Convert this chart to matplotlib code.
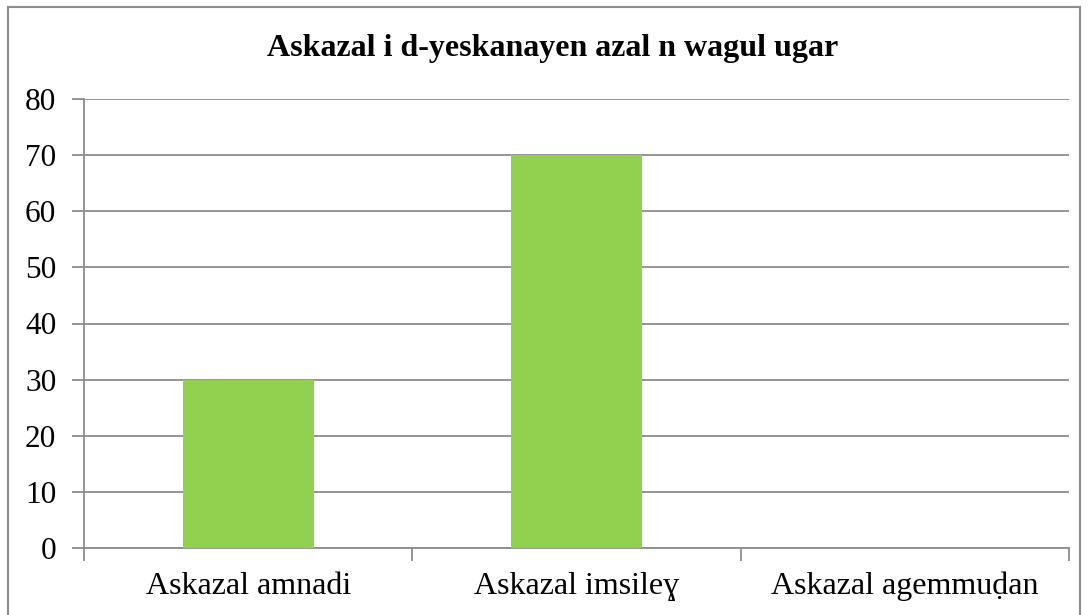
import matplotlib
matplotlib.use('Agg')
import matplotlib.pyplot as plt
from matplotlib.lines import Line2D

plt.rcParams['font.family'] = ['Liberation Serif', 'DejaVu Serif']

title = 'Askazal i d-yeskanayen azal n wagul ugar'
categories = ['Askazal amnadi', 'Askazal imsileɣ', 'Askazal agemmuḍan']
values = [30, 70, 0]
yticks = [0, 10, 20, 30, 40, 50, 60, 70, 80]

W, H = 1088, 615
fig = plt.figure(figsize=(W / 100, H / 100), dpi=100)
ax = fig.add_axes([84 / W, 1 - 548 / H, (1069 - 84) / W, (548 - 99) / H])

x = list(range(len(categories)))
ax.bar(x, values, width=0.4, color='#92D050', zorder=3)

ax.set_xlim(-0.5, len(categories) - 0.5)
ax.set_ylim(0, 80)
ax.set_yticks(yticks)
ax.set_yticklabels([str(v) for v in yticks], fontsize=22.5)
ax.yaxis.grid(True, color='#8c8c8c', linewidth=1.3, zorder=0)
ax.tick_params(axis='y', length=9, width=1.3, color='#8c8c8c', pad=11)

# category labels centred, ticks at the category boundaries
ax.set_xticks(x)
ax.set_xticklabels(categories, fontsize=23)
ax.tick_params(axis='x', length=0, pad=17)
ax.set_xticks([i - 0.5 for i in range(len(categories) + 1)], minor=True)
ax.tick_params(axis='x', which='minor', length=9, width=1.3, color='#8c8c8c')

for s in ['top', 'right']:
    ax.spines[s].set_visible(False)
for s in ['left', 'bottom']:
    ax.spines[s].set_color('#8c8c8c')
    ax.spines[s].set_linewidth(1.3)

fig.text(553 / W, 1 - 56 / H, title, ha='center', va='baseline',
         fontsize=23, fontweight='bold')

# outer chart border
bx0, bx1, by0 = 8 / W, 1080 / W, 1 - 7 / H
for xs, ys in [([bx0, bx0], [0, by0]), ([bx0, bx1], [by0, by0]), ([bx1, bx1], [by0, 0])]:
    fig.add_artist(Line2D(xs, ys, color='#8c8c8c', linewidth=1.5))

fig.savefig('out.png', dpi=100)
